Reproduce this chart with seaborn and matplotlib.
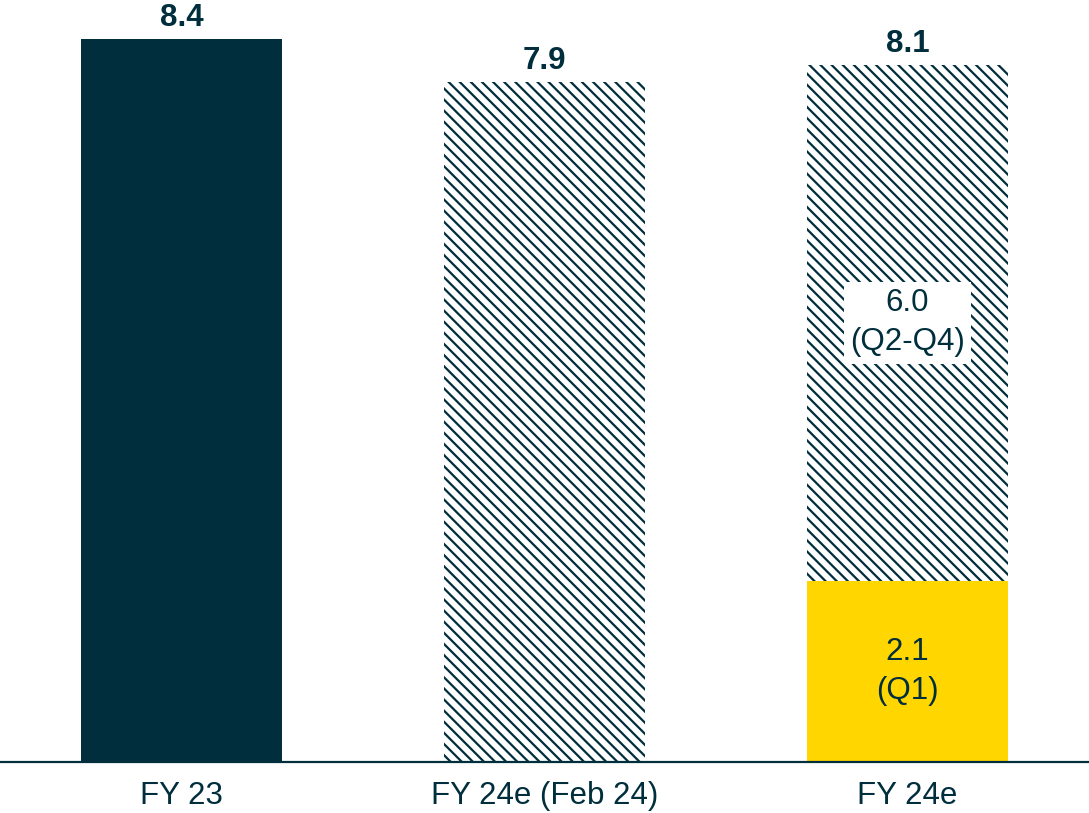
import numpy as np
import matplotlib
matplotlib.use("Agg")
import matplotlib.pyplot as plt
import pandas as pd
import seaborn as sns

NAVY = '#002e3c'
YELLOW = '#ffd600'

categories = ["FY 23", "FY 24e (Feb 24)", "FY 24e"]
totals = [8.4, 7.9, 8.1]
q1_values = [0.0, 0.0, 2.1]
rest_values = [0.0, 0.0, 6.0]
total_labels = ["8.4", "7.9", "8.1"]
q1_label = "2.1\n(Q1)"
rest_label = "6.0\n(Q2-Q4)"

sns.set_theme(style="white")
plt.rcParams['font.family'] = ['Liberation Sans', 'DejaVu Sans']
plt.rcParams['hatch.linewidth'] = 1.6

FONT = 22.5

fig = plt.figure(figsize=(10.89, 8.13), dpi=100)
ax = fig.add_axes([0, 0.0627, 1, 0.9373])

df = pd.DataFrame({"cat": categories, "total": totals, "q1": q1_values})

sns.barplot(data=df, x="cat", y="total", hue="cat", order=categories,
            palette={categories[0]: NAVY, categories[1]: 'white', categories[2]: 'white'},
            width=0.556, linewidth=0, saturation=1, legend=False, ax=ax)

# hatched bars for the estimates
for p in ax.patches[1:3]:
    p.set_facecolor('white')
    p.set_edgecolor(NAVY)
    p.set_hatch('\\\\\\')
    p.set_linewidth(0)

n_before = len(ax.patches)
sns.barplot(data=df, x="cat", y="q1", order=categories, color=YELLOW,
            width=0.556, linewidth=0, saturation=1, ax=ax)
for p in ax.patches[n_before:]:
    p.set_edgecolor('none')

for i in range(len(categories)):
    ax.annotate(total_labels[i], (i, totals[i]), xytext=(0, 9), textcoords='offset points',
                ha='center', va='baseline', fontsize=FONT, fontweight='bold', color=NAVY)

ax.text(2, q1_values[2] / 2, q1_label, ha='center', va='center', fontsize=FONT,
        color=NAVY, linespacing=1.4)
ax.text(2, q1_values[2] + rest_values[2] / 2, rest_label, ha='center', va='center',
        fontsize=FONT, color=NAVY, linespacing=1.4,
        bbox=dict(facecolor='white', edgecolor='none', boxstyle='square,pad=0.2'))

ax.set_xlim(-0.5, 2.5)
ax.set_ylim(0, 8.85)
ax.set_xlabel('')
ax.set_ylabel('')
ax.set_yticks([])
ax.tick_params(axis='x', length=0, pad=14, labelsize=FONT, labelcolor=NAVY)
for s in ['top', 'left', 'right']:
    ax.spines[s].set_visible(False)
ax.spines['bottom'].set_color(NAVY)
ax.spines['bottom'].set_linewidth(1.6)
ax.patch.set_alpha(0)

fig.savefig('out.png', dpi=100)
